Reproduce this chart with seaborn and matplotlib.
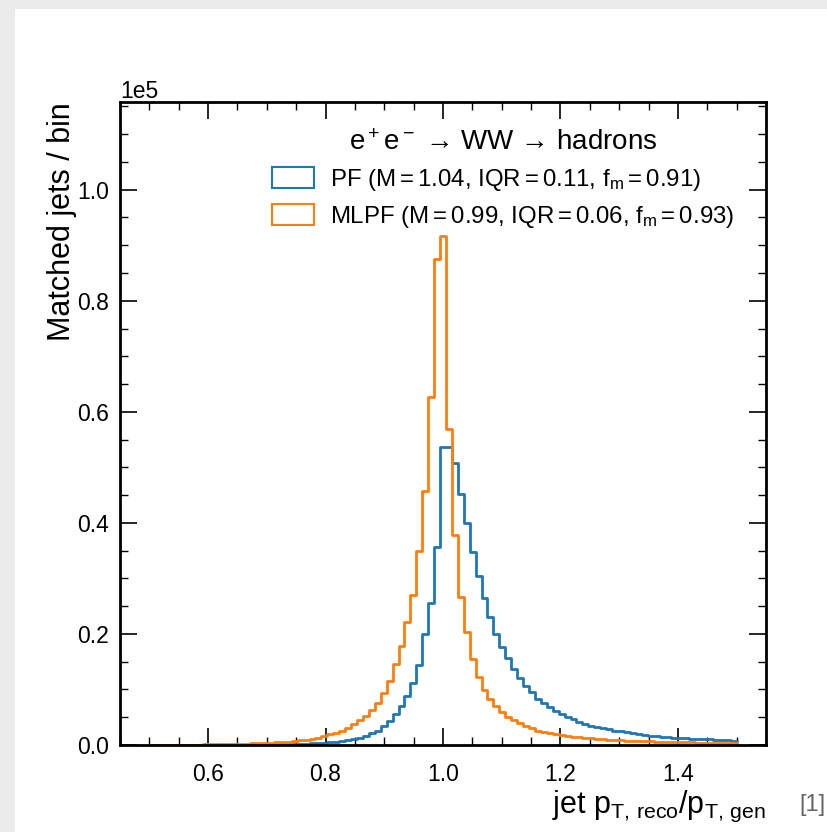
import numpy as np
import pandas as pd
import matplotlib
matplotlib.use("Agg")
import matplotlib.pyplot as plt
from matplotlib.patches import Patch, Rectangle
from matplotlib.ticker import MultipleLocator
import seaborn as sns

# ---- data (counts per bin, in units of 1e5), 99 bins from 0.5 to 1.5 ----
bin_lo, bin_hi, n_bins = 0.5, 1.5, 99

pf_left = [0.0001, 0.0001, 0.0001, 0.0001, 0.0001, 0.0001, 0.0001, 0.0001, 0.0001, 0.0001,
           0.0002, 0.0002, 0.0002, 0.0002, 0.0003, 0.0003, 0.0004, 0.0005, 0.0006, 0.0008,
           0.0010, 0.0012, 0.0014, 0.0016, 0.0019, 0.0022, 0.0026, 0.0030, 0.0035, 0.0040,
           0.0047, 0.0056, 0.0068, 0.0085, 0.011, 0.013, 0.017, 0.021, 0.026, 0.034,
           0.044, 0.055, 0.070, 0.088, 0.112, 0.144, 0.200, 0.256, 0.356, 0.537]
pf_right = [0.537, 0.508, 0.452, 0.400, 0.347, 0.305, 0.265, 0.231, 0.200, 0.177,
            0.156, 0.137, 0.120, 0.107, 0.095, 0.083, 0.075, 0.068, 0.061, 0.056,
            0.051, 0.046, 0.042, 0.038, 0.035, 0.032, 0.030, 0.028, 0.026, 0.025,
            0.023, 0.021, 0.019, 0.018, 0.017, 0.016, 0.015, 0.014, 0.013, 0.0125,
            0.012, 0.0115, 0.011, 0.0105, 0.010, 0.0095, 0.009, 0.0085, 0.008]

mlpf_left = [0.0003, 0.0003, 0.0004, 0.0004, 0.0005, 0.0006, 0.0007, 0.0008, 0.0009, 0.0010,
             0.0012, 0.0014, 0.0016, 0.0018, 0.0020, 0.0023, 0.0026, 0.0029, 0.0033, 0.0037,
             0.0042, 0.0047, 0.0053, 0.0060, 0.0068, 0.0085, 0.0097, 0.011, 0.013, 0.016,
             0.019, 0.022, 0.026, 0.031, 0.037, 0.045, 0.053, 0.063, 0.076, 0.093,
             0.116, 0.145, 0.178, 0.222, 0.270, 0.349, 0.457, 0.626, 0.875, 0.917]
mlpf_right = [0.569, 0.378, 0.267, 0.204, 0.155, 0.123, 0.099, 0.083, 0.070, 0.059,
              0.050, 0.045, 0.039, 0.034, 0.030, 0.026, 0.023, 0.021, 0.020, 0.018,
              0.017, 0.015, 0.014, 0.013, 0.012, 0.011, 0.010, 0.0095, 0.009, 0.0085,
              0.0078, 0.0074, 0.0070, 0.0067, 0.0064, 0.0061, 0.0058, 0.0055, 0.0052, 0.0050,
              0.0048, 0.0046, 0.0044, 0.0042, 0.0040, 0.0038, 0.0036, 0.0034, 0.0032]

pf_counts = np.array(pf_left + pf_right) * 1e5
mlpf_counts = np.array(mlpf_left + mlpf_right) * 1e5

labels = [r"PF ($M = 1.04$, $IQR = 0.11$, $f_m = 0.91$)",
          r"MLPF ($M = 0.99$, $IQR = 0.06$, $f_m = 0.93$)"]
legend_title = "$e^+e^-$ \u2192 WW \u2192 hadrons"
colors = ["#1f77b4", "#ff7f0e"]

edges = np.linspace(bin_lo, bin_hi, n_bins + 1)
centers = 0.5 * (edges[:-1] + edges[1:])
df = pd.DataFrame({
    "x": np.concatenate([centers, centers]),
    "w": np.concatenate([pf_counts, mlpf_counts]),
    "algo": ["PF"] * n_bins + ["MLPF"] * n_bins,
})

# ---- style ----
sns.set_style("ticks")
plt.rcParams["font.family"] = ["Liberation Sans", "DejaVu Sans"]
plt.rcParams["mathtext.fontset"] = "custom"
plt.rcParams["mathtext.rm"] = "Liberation Sans"
plt.rcParams["mathtext.it"] = "Liberation Sans"
plt.rcParams["mathtext.default"] = "regular"
for k in ["text.color", "axes.labelcolor", "xtick.color", "ytick.color"]:
    plt.rcParams[k] = "black"

fig = plt.figure(figsize=(8.28, 8.32), dpi=100, facecolor="#ebebeb")
bg = Rectangle((15 / 828, 0), 1, 1 - 9 / 832, transform=fig.transFigure,
               facecolor="white", edgecolor="none", zorder=-10)
fig.add_artist(bg)
ax = fig.add_axes([120 / 828, 1 - 745 / 832, (766 - 120) / 828, (745 - 102) / 832])
ax.set_zorder(1)

for algo, c in zip(["PF", "MLPF"], colors):
    sub = df[df.algo == algo]
    sns.histplot(data=sub, x="x", weights="w", bins=n_bins, binrange=(bin_lo, bin_hi),
                 element="step", fill=False, color=c, linewidth=2, ax=ax)

ax.set_xlim(0.45, 1.55)
ax.set_ylim(0, 1.158e5)
ax.xaxis.set_major_locator(MultipleLocator(0.2))
ax.xaxis.set_minor_locator(MultipleLocator(0.05))
ax.yaxis.set_major_locator(MultipleLocator(0.2e5))
ax.yaxis.set_minor_locator(MultipleLocator(0.05e5))
ax.ticklabel_format(axis="y", style="sci", scilimits=(0, 0), useMathText=False)
ax.tick_params(which="both", direction="in", top=True, right=True, labelsize=16.5)
ax.tick_params(which="major", length=12, width=1.2)
ax.tick_params(axis="x", which="major", pad=13)
ax.tick_params(axis="y", which="major", pad=8)
ax.tick_params(which="minor", length=6, width=1.0)
ax.yaxis.get_offset_text().set_fontsize(16.5)
for s in ax.spines.values():
    s.set_linewidth(2)
    s.set_color("black")

ax.set_xlabel(r"jet $p_{T,\,reco}/p_{T,\,gen}$", fontsize=22, loc="right", labelpad=2)
ax.set_ylabel("Matched jets / bin", fontsize=22, loc="top", labelpad=0)

handles = [Patch(facecolor="none", edgecolor=c, linewidth=1.5) for c in colors]
leg = ax.legend(handles, labels, title=legend_title, loc="upper right",
                bbox_to_anchor=(0.985, 0.99), frameon=False, fontsize=17.3,
                title_fontsize=20, handlelength=1.75, handleheight=0.95,
                labelspacing=0.45, handletextpad=0.7)

fig.text(812 / 828, 1 - 805 / 832, "[1]", color="#666666", fontsize=17,
         ha="center", va="center")

fig.savefig("out.png", dpi=100, facecolor=fig.get_facecolor())
